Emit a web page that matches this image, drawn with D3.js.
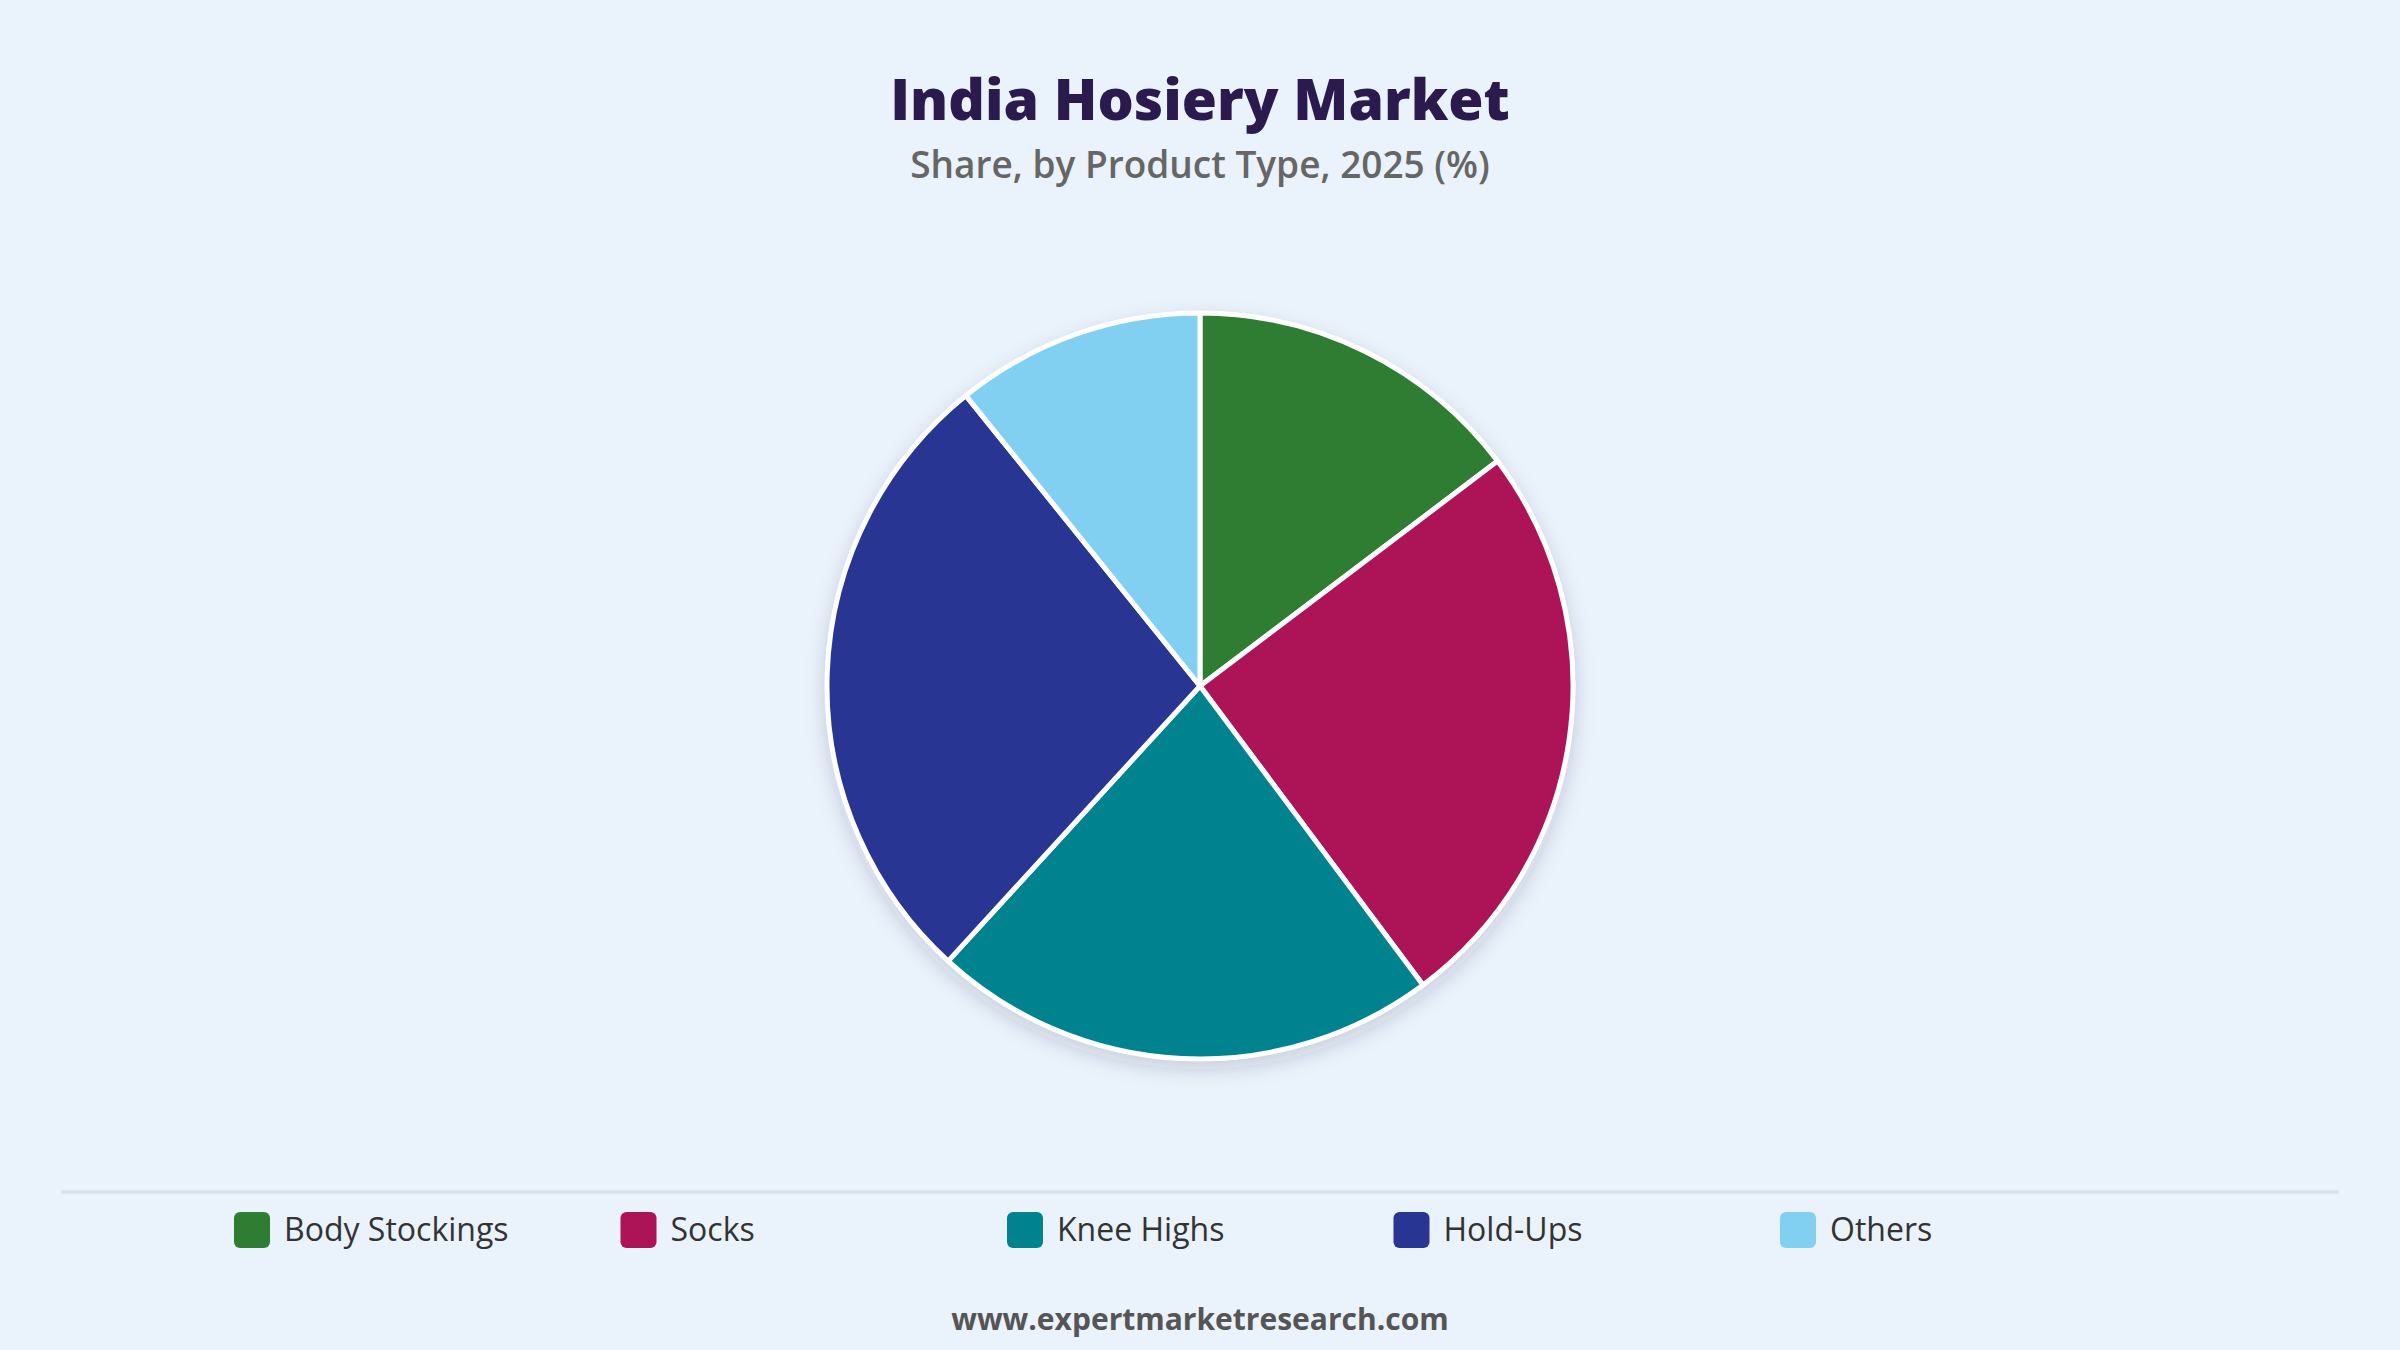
<!DOCTYPE html>
<html><head><meta charset="utf-8">
<script src="https://cdn.jsdelivr.net/npm/d3@7"></script>
<style>
html,body{margin:0;padding:0;background:#EAF2FB;}
svg{display:block;}
</style></head>
<body>
<svg id="chart" width="2400" height="1350"></svg>
<script>
const categories = ["Body Stockings", "Socks", "Knee Highs", "Hold-Ups", "Others"];
const shares = [14.7, 25.1, 22.0, 27.4, 10.8];
const colors = ["#2E7D32", "#AD1457", "#00838F", "#283593", "#81D0F2"];
const titleText = "India Hosiery Market";
const subtitleText = "Share, by Product Type, 2025 (%)";
const footerText = "www.expertmarketresearch.com";

const svg = d3.select("#chart");
const W = 2400, H = 1350;
const font = "'Open Sans', 'Noto Sans', sans-serif";

const defs = svg.append("defs");
const f = defs.append("filter").attr("id","shadow").attr("x","-20%").attr("y","-20%").attr("width","140%").attr("height","140%");
f.append("feDropShadow").attr("dx",0).attr("dy",8).attr("stdDeviation",10).attr("flood-color","#1a2a4a").attr("flood-opacity",0.18);

svg.append("text").attr("x", W/2).attr("y", 120).attr("text-anchor","middle")
  .attr("font-family", font).attr("font-weight", 800).attr("font-size", 57)
  .attr("fill", "#2B1A4E").text(titleText);
svg.append("text").attr("x", W/2).attr("y", 178).attr("text-anchor","middle")
  .attr("font-family", font).attr("font-weight", 600).attr("font-size", 37)
  .attr("fill", "#666666").text(subtitleText);

const cx = 1200, cy = 686, r = 373;
const pie = d3.pie().value(d => d.v).sort(null);
const arc = d3.arc().innerRadius(0).outerRadius(r);
const data = categories.map((c,i) => ({c, v: shares[i], col: colors[i]}));
const g = svg.append("g").attr("transform", `translate(${cx},${cy})`);
g.append("circle").attr("r", r+2).attr("fill","#ffffff").attr("filter","url(#shadow)");
g.selectAll("path").data(pie(data)).enter().append("path")
  .attr("d", arc).attr("fill", d => d.data.col)
  .attr("stroke", "#ffffff").attr("stroke-width", 5).attr("stroke-linejoin","round");

svg.append("line").attr("x1", 61).attr("x2", 2339).attr("y1", 1192).attr("y2", 1192)
  .attr("stroke", "#D9DEE5").attr("stroke-width", 3);

const lx = d3.scalePoint().domain(categories).range([234, 1780]);
const lg = svg.append("g");
const items = lg.selectAll("g").data(data).enter().append("g")
  .attr("transform", d => `translate(${lx(d.c)},1230)`);
items.append("rect").attr("x",0).attr("y",-18).attr("width",36).attr("height",36).attr("rx",6)
  .attr("fill", d => d.col);
items.append("text").attr("x", 50).attr("y", 0).attr("dy","0.35em")
  .attr("font-family", font).attr("font-size", 32).attr("fill","#333333").text(d => d.c);

svg.append("text").attr("x", W/2).attr("y", 1330).attr("text-anchor","middle")
  .attr("font-family", font).attr("font-weight", 700).attr("font-size", 30)
  .attr("fill", "#555555").text(footerText);
</script>
</body></html>
